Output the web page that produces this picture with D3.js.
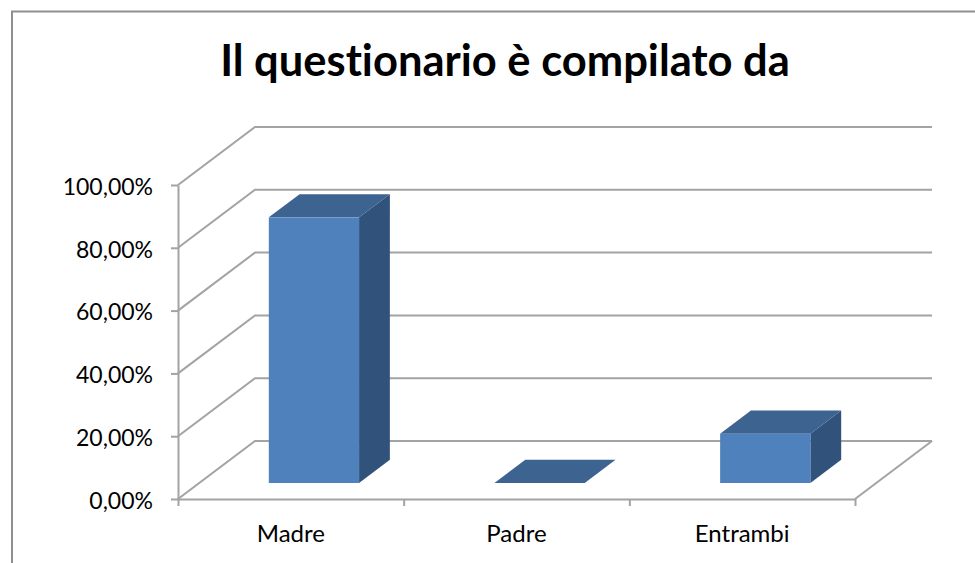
<!DOCTYPE html>
<html>
<head>
<meta charset="utf-8">
<script src="https://cdn.jsdelivr.net/npm/d3@7"></script>
<style>
  html, body { margin: 0; padding: 0; background: #fff; }
  svg { display: block; }
  text { font-family: Lato, "Open Sans", sans-serif; fill: #000; font-variant-ligatures: none; }
  .axis path, .axis line, .grid { stroke: #a3a3a3; stroke-width: 2; fill: none; }
</style>
</head>
<body>
<div id="chart"></div>
<script>
var titleText = "Il questionario è compilato da";
var categories = ["Madre", "Padre", "Entrambi"];
var values = [84.6, 0, 15.7];
var yTicks = [0, 20, 40, 60, 80, 100];

var width = 975, height = 563;
var left = 178, right = 855, bottom = 499, top_ = 185;
var depthX = 77, depthY = 58;       // offset of the back wall
var barX = 0.3, barY = 0.276, barDepth = 0.4;   // where the bars sit on the floor

var svg = d3.select("#chart").append("svg")
    .attr("width", width)
    .attr("height", height);

var x = d3.scaleBand().domain(categories).range([left, right])
    .paddingInner(0.6).paddingOuter(0.3);
var xEdges = d3.scaleLinear().domain([0, categories.length]).range([left, right]);
var y = d3.scaleLinear().domain([0, 100]).range([bottom, top_]);

// chart frame, runs off the right and bottom of the picture
svg.append("path")
    .attr("d", "M12,564V11.5H976")
    .attr("fill", "none")
    .attr("stroke", "#8f8f8f")
    .attr("stroke-width", 2);

svg.append("text")
    .attr("x", 505)
    .attr("y", 76)
    .attr("text-anchor", "middle")
    .attr("font-size", 43.5)
    .attr("font-weight", 700)
    .text(titleText);

// side wall and back wall lines
svg.selectAll(".grid")
    .data(yTicks)
    .enter().append("path")
    .attr("class", "grid")
    .attr("d", function(d) {
      return "M" + left + "," + y(d) +
        "L" + (left + depthX) + "," + (y(d) - depthY) +
        "H" + (right + depthX);
    });

// right edge of the floor
svg.append("path")
    .attr("class", "grid")
    .attr("d", "M" + right + "," + y(0) + "L" + (right + depthX) + "," + (y(0) - depthY));

var yAxis = d3.axisLeft(y)
    .tickValues(yTicks)
    .tickSize(7)
    .tickSizeOuter(0)
    .tickPadding(18)
    .tickFormat(function(d) { return d3.format(".2f")(d).replace(".", ",") + "%"; });

svg.append("g")
    .attr("class", "axis")
    .attr("transform", "translate(" + left + ",0)")
    .call(yAxis)
    .selectAll("text")
    .attr("font-size", 23)
    .attr("dy", "0.4em");

var xTickAxis = d3.axisBottom(xEdges)
    .ticks(categories.length)
    .tickSize(7)
    .tickSizeOuter(0)
    .tickFormat("");

svg.append("g")
    .attr("class", "axis")
    .attr("transform", "translate(0," + bottom + ")")
    .call(xTickAxis);

var xAxis = d3.axisBottom(x).tickSize(0).tickPadding(26);

var xLabels = svg.append("g")
    .attr("transform", "translate(0," + bottom + ")")
    .call(xAxis);
xLabels.select(".domain").remove();
xLabels.selectAll("text").attr("font-size", 24);

// bars: front, top and side faces
var bars = svg.selectAll(".bar")
    .data(categories)
    .enter().append("g")
    .attr("class", "bar");

function barBox(i) {
  var x0 = x(categories[i]) + barX * depthX;
  var base = y(0) - barY * depthY;
  return {
    x0: x0,
    x1: x0 + x.bandwidth(),
    base: base,
    top: base - (y(0) - y(values[i])),
    dx: barDepth * depthX,
    dy: barDepth * depthY
  };
}

bars.append("path")
    .attr("fill", "#31527a")
    .attr("d", function(d, i) {
      var b = barBox(i);
      return "M" + b.x1 + "," + b.top + "L" + (b.x1 + b.dx) + "," + (b.top - b.dy) +
        "V" + (b.base - b.dy) + "L" + b.x1 + "," + b.base + "Z";
    });

bars.append("path")
    .attr("fill", "#3d6390")
    .attr("d", function(d, i) {
      var b = barBox(i);
      return "M" + b.x0 + "," + b.top + "L" + (b.x0 + b.dx) + "," + (b.top - b.dy) +
        "H" + (b.x1 + b.dx) + "L" + b.x1 + "," + b.top + "Z";
    });

bars.append("rect")
    .attr("fill", "#4f81bd")
    .attr("x", function(d, i) { return barBox(i).x0; })
    .attr("y", function(d, i) { return barBox(i).top; })
    .attr("width", x.bandwidth())
    .attr("height", function(d, i) { return barBox(i).base - barBox(i).top; });
</script>
</body>
</html>
